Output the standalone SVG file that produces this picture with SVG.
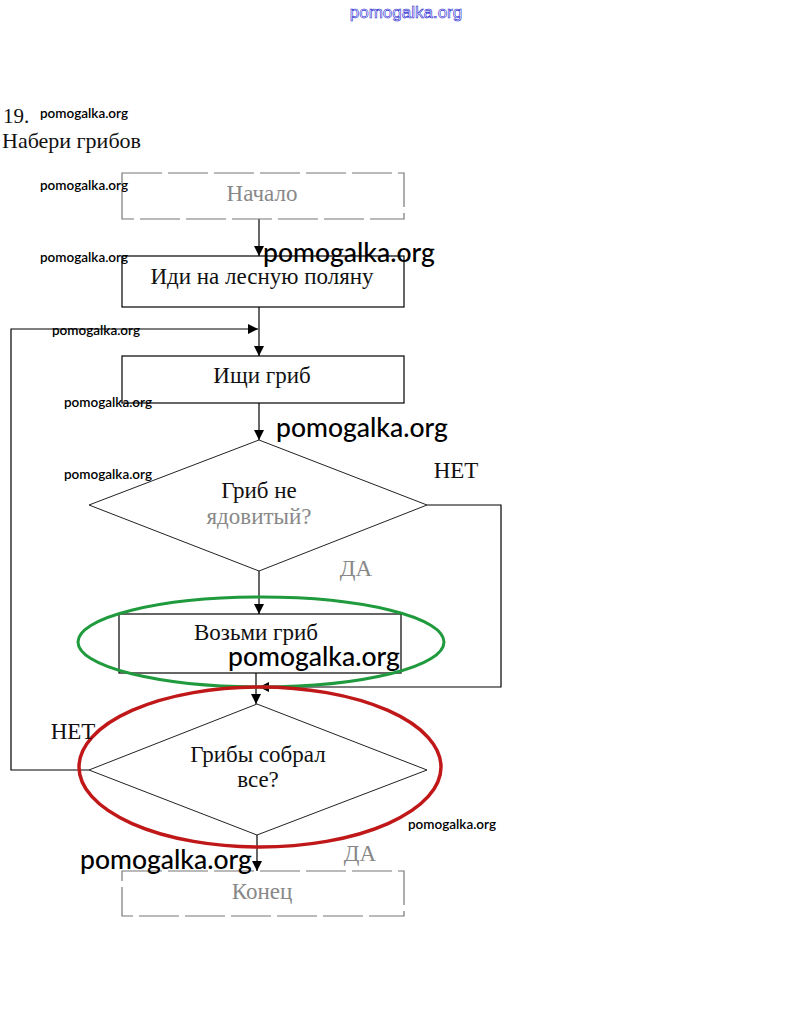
<svg xmlns="http://www.w3.org/2000/svg" width="811" height="1031" viewBox="0 0 811 1031">
<defs>
<marker id="ah" viewBox="0 0 10 10" refX="10" refY="5" markerWidth="10" markerHeight="10" markerUnits="userSpaceOnUse" orient="auto"><path d="M0,0 L10,5 L0,10 z" fill="#000"/></marker>
<style>
.t{font-family:"Liberation Serif",serif;font-size:23px;fill:#111;text-anchor:middle}
.g{fill:#888}
.box{fill:#fff;stroke:#000;stroke-width:1.2}
.fbox{fill:none;stroke:#777;stroke-width:1.2;stroke-dasharray:40 6}
.dia{fill:none;stroke:#222;stroke-width:1}
.c{fill:none;stroke:#000;stroke-width:1.2}
.wm{font-family:Lato,"Open Sans",sans-serif;fill:#000}
.ws{font-size:13.5px;font-weight:600}
.wl{font-size:26.5px;font-weight:500}
</style>
</defs>
<rect width="811" height="1031" fill="#fff"/>
<text x="406" y="18" font-family="Liberation Sans,sans-serif" font-size="17" text-anchor="middle" fill="#fff" stroke="#2020d0" stroke-width="0.6">pomogalka.org</text>
<text x="3" y="123" font-family="Liberation Serif,serif" font-size="21" fill="#111">19.</text>
<text x="2" y="148" font-family="Liberation Serif,serif" font-size="22" fill="#111">Набери грибов</text>

<g id="connectors">
<path class="c" d="M259,219 V256" marker-end="url(#ah)"/>
<path class="c" d="M259,307 V356" marker-end="url(#ah)"/>
<path class="c" d="M89,770 H11 V329 H258" marker-end="url(#ah)"/>
<path class="c" d="M259,403 V440" marker-end="url(#ah)"/>
<path class="c" d="M259,571 V614" marker-end="url(#ah)"/>
<path class="c" d="M427,505 H501 V687 H259" marker-end="url(#ah)"/>
<path class="c" d="M256,673 V704" marker-end="url(#ah)"/>
<path class="c" d="M257,835 V871" marker-end="url(#ah)"/>
</g>

<g id="start"><rect class="fbox" x="122" y="173" width="282" height="46"/><text class="t g" x="262" y="201">Начало</text></g>
<g id="go"><rect class="box" x="122" y="256" width="282" height="51"/><text class="t" x="262" y="284">Иди на лесную поляну</text></g>
<g id="search"><rect class="box" x="122" y="356" width="282" height="47"/><text class="t" x="262" y="383">Ищи гриб</text></g>
<g id="check1"><path class="dia" d="M259,440 L427,505 L259,571 L89,505 z"/><text class="t" x="259" y="498">Гриб не</text><text class="t g" x="259" y="524">ядовитый?</text></g>
<text class="t" x="456" y="478" font-size="21">НЕТ</text>
<text class="t g" x="356" y="576" font-size="19">ДА</text>
<g id="take"><rect class="box" x="119" y="614" width="282" height="59"/><text class="t" x="256" y="640">Возьми гриб</text></g>
<ellipse cx="261" cy="642" rx="183" ry="45" fill="none" stroke="#1f9a3c" stroke-width="3"/>
<g id="check2"><path class="dia" d="M257,704 L427,770 L257,835 L89,770 z"/><text class="t" x="258" y="762">Грибы собрал</text><text class="t" x="258" y="787">все?</text></g>
<ellipse cx="260" cy="767" rx="181" ry="80" fill="none" stroke="#c01818" stroke-width="3.5"/>
<text class="t" x="73" y="739" font-size="21">НЕТ</text>
<text class="t g" x="360" y="861" font-size="19">ДА</text>
<g id="end"><rect class="fbox" x="122" y="871" width="282" height="45"/><text class="t g" x="262" y="899">Конец</text></g>

<g id="watermarks">
<text class="wm ws" x="40" y="118">pomogalka.org</text>
<text class="wm ws" x="40" y="190">pomogalka.org</text>
<text class="wm ws" x="40" y="262">pomogalka.org</text>
<text class="wm ws" x="52" y="335">pomogalka.org</text>
<text class="wm ws" x="64" y="407">pomogalka.org</text>
<text class="wm ws" x="64" y="479">pomogalka.org</text>
<text class="wm ws" x="408" y="829">pomogalka.org</text>
<text class="wm wl" x="263" y="262">pomogalka.org</text>
<text class="wm wl" x="276" y="437">pomogalka.org</text>
<text class="wm wl" x="228" y="666">pomogalka.org</text>
<text class="wm wl" x="80" y="869">pomogalka.org</text>
</g>
</svg>
